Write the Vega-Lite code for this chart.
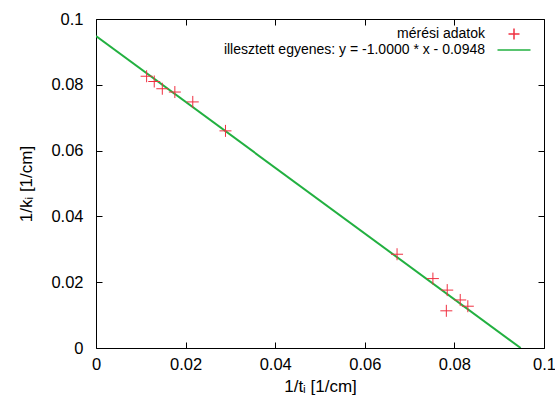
{
  "$schema": "https://vega.github.io/schema/vega-lite/v6.json",
  "autosize": "none",
  "width": 448,
  "height": 329,
  "padding": {"left": 96, "top": 19, "right": 11, "bottom": 51},
  "background": "white",
  "config": {
    "font": "Liberation Sans",
    "view": {"stroke": null},
    "axis": {
      "grid": false,
      "domainColor": "black",
      "domainWidth": 1,
      "tickColor": "black",
      "tickSize": -6,
      "labelFont": "Liberation Sans",
      "labelFontSize": 16.5,
      "labelColor": "black",
      "titleFont": "Liberation Sans",
      "titleFontSize": 17,
      "titleFontWeight": "normal",
      "titleColor": "black"
    }
  },
  "datasets": {
    "pts": [
      {"x": 0.0113, "y": 0.0826, "series": "mérési adatok"},
      {"x": 0.0130, "y": 0.0810, "series": "mérési adatok"},
      {"x": 0.0148, "y": 0.0788, "series": "mérési adatok"},
      {"x": 0.0176, "y": 0.0778, "series": "mérési adatok"},
      {"x": 0.0216, "y": 0.0748, "series": "mérési adatok"},
      {"x": 0.0289, "y": 0.0660, "series": "mérési adatok"},
      {"x": 0.0672, "y": 0.0285, "series": "mérési adatok"},
      {"x": 0.0752, "y": 0.0211, "series": "mérési adatok"},
      {"x": 0.0784, "y": 0.0176, "series": "mérési adatok"},
      {"x": 0.0782, "y": 0.0113, "series": "mérési adatok"},
      {"x": 0.0813, "y": 0.0146, "series": "mérési adatok"},
      {"x": 0.0830, "y": 0.0127, "series": "mérési adatok"}
    ],
    "fit": [
      {"x": 0.0, "y": 0.0948, "series": "illesztett egyenes: y = -1.0000 * x - 0.0948"},
      {"x": 0.0948, "y": 0.0, "series": "illesztett egyenes: y = -1.0000 * x - 0.0948"}
    ]
  },
  "layer": [
    {
      "data": {"name": "fit"},
      "mark": {"type": "line", "strokeWidth": 2, "clip": true},
      "encoding": {
        "x": {"field": "x", "type": "quantitative", "scale": {"domain": [0, 0.1], "nice": false, "zero": false},
              "axis": {"orient": "top", "labels": false, "title": null, "values": [0, 0.02, 0.04, 0.06, 0.08, 0.1]}},
        "y": {"field": "y", "type": "quantitative", "scale": {"domain": [0, 0.1], "nice": false, "zero": false},
              "axis": {"orient": "right", "labels": false, "title": null, "values": [0, 0.02, 0.04, 0.06, 0.08, 0.1]}},
        "color": {"field": "series", "type": "nominal",
                  "scale": {"domain": ["mérési adatok", "illesztett egyenes: y = -1.0000 * x - 0.0948"], "range": ["#f03040", "#22b040"]}}
      }
    },
    {
      "data": {"name": "pts"},
      "mark": {"type": "point", "filled": false, "strokeWidth": 1, "size": 144, "opacity": 1},
      "encoding": {
        "x": {"field": "x", "type": "quantitative",
              "axis": {"orient": "bottom", "title": "1/tᵢ  [1/cm]", "values": [0, 0.02, 0.04, 0.06, 0.08, 0.1], "labelPadding": 14, "titlePadding": 6, "labelFlush": false, "labelExpr": "datum.value == 0 ? '0' : format(datum.value, '.2~f')"}},
        "y": {"field": "y", "type": "quantitative",
              "axis": {"orient": "left", "title": "1/kᵢ  [1/cm]", "values": [0, 0.02, 0.04, 0.06, 0.08, 0.1], "labelPadding": 19, "titlePadding": 15, "labelFlush": false, "labelExpr": "datum.value == 0 ? '0' : format(datum.value, '.2~f')"}},
        "color": {"field": "series", "type": "nominal",
                  "legend": {
                    "title": null, "orient": "none", "legendX": 411, "legendY": 8, "padding": 0,
                    "labelFontSize": 14, "labelFont": "Liberation Sans", "labelColor": "black",
                    "labelAlign": "right", "labelOffset": -36, "symbolSize": 121,
                    "symbolStrokeWidth": 1.5, "rowPadding": 0, "labelLimit": 400
                  }},
        "shape": {"field": "series", "type": "nominal",
                  "scale": {"domain": ["mérési adatok", "illesztett egyenes: y = -1.0000 * x - 0.0948"], "range": ["M-1,0H1M0,-1V1", "M-3,0H3"]}}
      }
    }
  ],
  "resolve": {"axis": {"x": "independent", "y": "independent"}}
}
